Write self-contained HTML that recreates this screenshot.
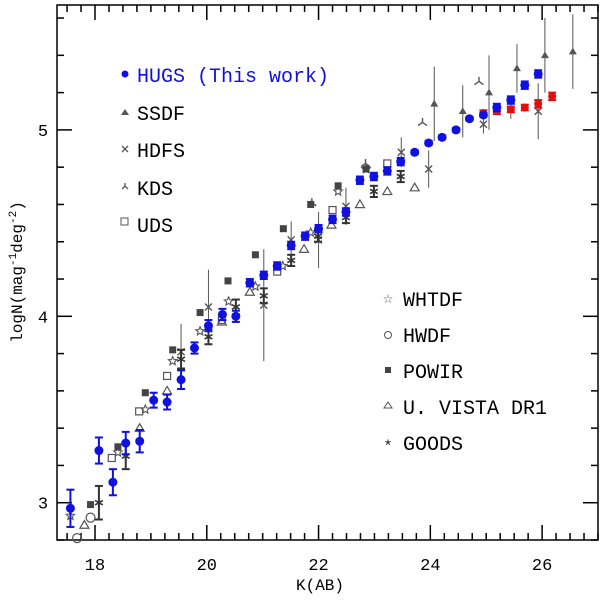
<!DOCTYPE html>
<html><head><meta charset="utf-8"><style>
body{margin:0;background:#fff}
svg text{font-family:"Liberation Mono",monospace}
</style></head><body>
<svg id="c" width="600" height="600" xmlns="http://www.w3.org/2000/svg"></svg>
<script>
const xTicks=[18,20,22,24,26];
const yTicks=[3,4,5];
const hugsX=[17.56,18.07,18.32,18.55,18.8,19.05,19.29,19.54,19.78,20.03,20.28,20.52,20.77,21.02,21.26,21.51,21.76,22.0,22.25,22.49,22.74,22.99,23.23,23.47,23.72,23.97,24.21,24.46,24.70,24.95,25.19,25.44,25.69,25.93];
const hugsY=[2.97,3.28,3.11,3.32,3.33,3.55,3.54,3.66,3.83,3.95,4.01,4.0,4.18,4.22,4.27,4.38,4.43,4.47,4.52,4.56,4.73,4.75,4.78,4.83,4.88,4.93,4.96,5.0,5.06,5.08,5.12,5.16,5.24,5.30];
const hugsErr=[0.1,0.07,0.07,0.06,0.06,0.04,0.04,0.05,0.03,0.03,0.03,0.03,0.02,0.02,0.02,0.02,0.02,0.02,0.02,0.02,0.02,0.02,0.02,0.02,0.01,0.01,0.01,0.01,0.01,0.01,0.02,0.02,0.02,0.02];
const redX=[24.95,25.19,25.44,25.69,25.93,26.18];
const redY=[5.09,5.10,5.11,5.12,5.14,5.18];
const redErr=[0.015,0.015,0.015,0.015,0.02,0.02];
const ssdfX=[24.07,24.58,25.05,25.55,26.05,26.55];
const ssdfY=[5.14,5.10,5.20,5.33,5.40,5.42];
const ssdfErr=[0.2,0.14,0.2,0.13,0.2,0.2];
const hdfsX=[19.54,20.03,21.02,21.51,22.0,22.49,23.48,23.97,24.95,25.44,25.93];
const hdfsY=[3.81,4.05,4.06,4.41,4.41,4.59,4.88,4.79,5.03,5.11,5.10];
const hdfsErr=[0.15,0.2,0.3,0.1,0.15,0.1,0.08,0.1,0.05,0.05,0.15];
const kdsX=[21.88,22.84,23.86,24.87];
const kdsY=[4.61,4.82,5.04,5.26];
const udsX=[18.3,18.79,19.29,20.27,21.26,22.25,23.23];
const udsY=[3.24,3.49,3.68,3.98,4.24,4.57,4.82];
const whtX=[17.56,18.41,18.9,19.39,19.88,20.39,20.87,21.36,21.86,22.35,22.85];
const whtY=[2.93,3.27,3.5,3.76,3.92,4.08,4.16,4.27,4.45,4.67,4.79];
const hwdfX=[17.68,17.92];
const hwdfY=[2.81,2.92];
const powX=[17.92,18.41,18.9,19.39,19.88,20.38,20.87,21.37,21.86,22.35,22.85];
const powY=[2.99,3.30,3.59,3.82,4.02,4.19,4.33,4.47,4.60,4.70,4.79];
const vistaX=[17.81,18.8,19.29,20.27,20.77,21.74,22.23,22.74,23.23,23.72];
const vistaY=[2.88,3.40,3.60,3.97,4.13,4.36,4.49,4.60,4.67,4.69];
const goodsX=[18.07,18.55,19.54,20.03,20.52,21.02,21.51,21.99,22.49,22.99,23.47];
const goodsY=[3.0,3.25,3.77,3.89,4.05,4.11,4.30,4.43,4.53,4.67,4.75];
const goodsErr=[0.09,0.07,0.05,0.04,0.04,0.04,0.03,0.03,0.03,0.03,0.03];

const L=57,R=598,T=5,B=540,X0=17.32,X1=27,Y0=2.8,Y1=5.67;
const sx=v=>L+(v-X0)/(X1-X0)*(R-L);
const sy=v=>B-(v-Y0)/(Y1-Y0)*(B-T);
const svg=document.getElementById('c');
const NS='http://www.w3.org/2000/svg';
function mk(tag,at,parent){const e=document.createElementNS(NS,tag);for(const k in at)e.setAttribute(k,at[k]);(parent||svg).appendChild(e);return e;}
const G='#555';
function errbar(g,x,y,e,col,cap){const X=sx(x);mk('line',{x1:X,x2:X,y1:sy(y-e),y2:sy(y+e),stroke:col,'stroke-width':cap?2:1},g);if(cap){mk('line',{x1:X-4,x2:X+4,y1:sy(y-e),y2:sy(y-e),stroke:col,'stroke-width':2},g);mk('line',{x1:X-4,x2:X+4,y1:sy(y+e),y2:sy(y+e),stroke:col,'stroke-width':2},g);}}
function marker(g,type,X,Y,s,col){
 if(type==='circle')return mk('circle',{cx:X,cy:Y,r:s,fill:col},g);
 if(type==='ocircle')return mk('circle',{cx:X,cy:Y,r:s,fill:'none',stroke:col,'stroke-width':1.2},g);
 if(type==='tri')return mk('path',{d:`M${X},${Y-s}L${X+s},${Y+s*0.7}L${X-s},${Y+s*0.7}Z`,fill:col},g);
 if(type==='otri')return mk('path',{d:`M${X},${Y-s}L${X+s},${Y+s*0.7}L${X-s},${Y+s*0.7}Z`,fill:'none',stroke:col,'stroke-width':1.2},g);
 if(type==='x')return mk('path',{d:`M${X-s},${Y-s}L${X+s},${Y+s}M${X-s},${Y+s}L${X+s},${Y-s}`,stroke:col,'stroke-width':1.4},g);
 if(type==='kds')return mk('path',{d:`M${X},${Y}L${X},${Y-s}M${X},${Y}L${X-s},${Y+s*0.7}M${X},${Y}L${X+s},${Y+s*0.7}`,stroke:col,'stroke-width':1.4,fill:'none'},g);
 if(type==='sq')return mk('rect',{x:X-s,y:Y-s,width:2*s,height:2*s,fill:col},g);
 if(type==='osq')return mk('rect',{x:X-s,y:Y-s,width:2*s,height:2*s,fill:'none',stroke:col,'stroke-width':1.2},g);
 if(type==='star'){let d='';for(let i=0;i<10;i++){const r=i%2?s*0.45:s;const a=-Math.PI/2+i*Math.PI/5;d+=(i?'L':'M')+(X+r*Math.cos(a))+','+(Y+r*Math.sin(a));}return mk('path',{d:d+'Z',fill:'none',stroke:col,'stroke-width':1.1},g);}
 if(type==='ast'){let d='';for(let i=0;i<3;i++){const a=i*Math.PI/3+Math.PI/2;d+=`M${X-s*Math.cos(a)},${Y-s*Math.sin(a)}L${X+s*Math.cos(a)},${Y+s*Math.sin(a)}`;}return mk('path',{d,stroke:col,'stroke-width':1.6},g);}
}
function series(name,xs,ys,type,s,col,errs,cap){
 const g=mk('g',{});
 
 
 xs.forEach((x,i)=>{
  if(errs)errbar(g,x,ys[i],errs[i],col,cap);
  const m=marker(g,type,sx(x),sy(ys[i]),s,col);
  
  
 });
}
const fr=mk('rect',{x:L,y:T,width:R-L,height:B-T,fill:'none',stroke:'#000','stroke-width':1.5});


for(let v=17.5;v<=27;v+=0.25){const X=sx(v);if(X<L||X>R)continue;const maj=Math.abs(v/2-Math.round(v/2))<1e-6;const len=maj?15:7;
 mk('line',{x1:X,x2:X,y1:B,y2:B-len,stroke:'#000','stroke-width':1.5});mk('line',{x1:X,x2:X,y1:T,y2:T+len,stroke:'#000','stroke-width':1.5});}
for(let v=2.8;v<=5.67;v+=0.2){const Y=sy(v);const maj=Math.abs(v-Math.round(v))<1e-6;const len=maj?15:7;
 mk('line',{x1:L,x2:L+len,y1:Y,y2:Y,stroke:'#000','stroke-width':1.5});mk('line',{x1:R,x2:R-len,y1:Y,y2:Y,stroke:'#000','stroke-width':1.5});}
xTicks.forEach(v=>{const t=mk('text',{x:sx(v),y:570,'text-anchor':'middle','font-size':17});t.textContent=v;
 
 });
yTicks.forEach(v=>{const t=mk('text',{x:43,y:sy(v)+6,'text-anchor':'middle','font-size':17});t.textContent=v;
 
 });
series('ssdf',ssdfX,ssdfY,'tri',4,G,ssdfErr,false);
series('hdfs',hdfsX,hdfsY,'x',3.5,G,hdfsErr,false);
series('kds',kdsX,kdsY,'kds',4.5,G,null);
series('uds',udsX,udsY,'osq',3.5,G,null);
series('whtdf',whtX,whtY,'star',4.5,G,null);
series('hwdf',hwdfX,hwdfY,'ocircle',4.5,G,null);
series('powir',powX,powY,'sq',3.5,'#444',null);
series('ultravista',vistaX,vistaY,'otri',4.5,G,null);
series('goods',goodsX,goodsY,'ast',4.5,'#333',goodsErr,true);
series('hugs-red',redX,redY,'circle',4,'#e01010',redErr,true);
series('hugs',hugsX,hugsY,'circle',4.5,'#1010e0',hugsErr,true);
</script>
<svg width="600" height="600" style="position:absolute;left:0;top:0;pointer-events:none" xmlns="http://www.w3.org/2000/svg">
<g font-family="Liberation Mono, monospace" font-size="20">
 <circle cx="125" cy="74" r="3.5" fill="#1010e0"/>
 <text x="137" y="82" fill="#1010e0">HUGS (This work)</text>
 <path d="M125,109L129,115L121,115Z" fill="#555"/>
 <text x="137" y="120">SSDF</text>
 <path d="M122,146L128,152M122,152L128,146" stroke="#555" stroke-width="1.3"/>
 <text x="137" y="157">HDFS</text>
 <path d="M125,186L125,183M125,186L122,189M125,186L128,189" stroke="#555" stroke-width="1.3" fill="none"/>
 <text x="137" y="195">KDS</text>
 <rect x="121" y="218" width="7" height="7" fill="none" stroke="#555"/>
 <text x="137" y="232">UDS</text>
</g>
<g font-family="Liberation Mono, monospace" font-size="20">
 <text x="388" y="303" text-anchor="middle" font-size="12" fill="#555">☆</text>
 <text x="403" y="306">WHTDF</text>
 <circle cx="388" cy="335" r="3.5" fill="none" stroke="#555"/>
 <text x="403" y="342">HWDF</text>
 <rect x="385" y="367" width="6" height="6" fill="#444"/>
 <text x="403" y="378">POWIR</text>
 <path d="M388,402L392,408L384,408Z" fill="none" stroke="#555"/>
 <text x="403" y="414">U. VISTA DR1</text>
 <text x="388" y="451" text-anchor="middle" font-size="16" fill="#222">*</text>
 <text x="403" y="450">GOODS</text>
</g>
<text x="320" y="590" text-anchor="middle" font-family="Liberation Mono, monospace" font-size="16">K(AB)</text>
<text transform="translate(22,272) rotate(-90)" text-anchor="middle" font-family="Liberation Mono, monospace" font-size="16">logN(mag<tspan dy="-6" font-size="11">-1</tspan><tspan dy="6">deg</tspan><tspan dy="-6" font-size="11">-2</tspan><tspan dy="6">)</tspan></text>
</svg>
</body></html>
